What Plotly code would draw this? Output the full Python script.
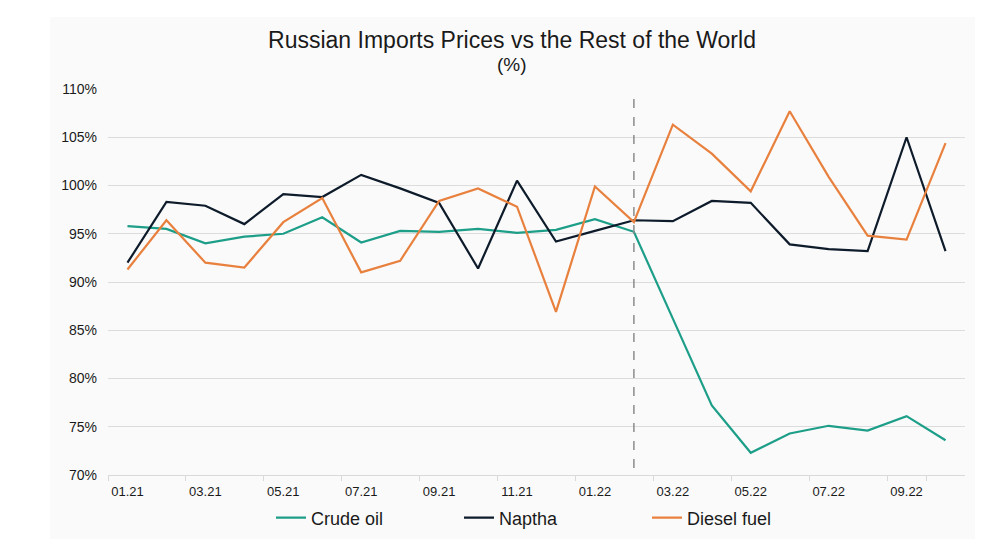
import plotly.graph_objects as go

# ---------------- data ----------------
months = ["01.21", "02.21", "03.21", "04.21", "05.21", "06.21", "07.21", "08.21",
          "09.21", "10.21", "11.21", "12.21", "01.22", "02.22", "03.22", "04.22",
          "05.22", "06.22", "07.22", "08.22", "09.22", "10.22"]
tick_labels = ["01.21", "03.21", "05.21", "07.21", "09.21", "11.21",
               "01.22", "03.22", "05.22", "07.22", "09.22"]
y_ticks = [70, 75, 80, 85, 90, 95, 100, 105, 110]
y_tick_labels = ["70%", "75%", "80%", "85%", "90%", "95%", "100%", "105%", "110%"]

crude_oil = [95.8, 95.5, 94.0, 94.7, 95.0, 96.7, 94.1, 95.3, 95.2, 95.5, 95.1, 95.4,
             96.5, 95.2, 86.2, 77.2, 72.3, 74.3, 75.1, 74.6, 76.1, 73.6]
naptha = [92.0, 98.3, 97.9, 96.0, 99.1, 98.8, 101.1, 99.7, 98.2, 91.4, 100.5, 94.2,
          95.3, 96.4, 96.3, 98.4, 98.2, 93.9, 93.4, 93.2, 105.0, 93.2]
diesel = [91.3, 96.4, 92.0, 91.5, 96.2, 98.7, 91.0, 92.2, 98.4, 99.7, 97.8, 86.9,
          99.9, 96.2, 106.3, 103.3, 99.4, 107.7, 100.9, 94.8, 94.4, 104.4]

series_names = ["Crude oil", "Naptha", "Diesel fuel"]
event_month = "02.22"

# ---------------- styles ----------------
colors = {"Crude oil": "#1d9e88", "Naptha": "#0e1b2b", "Diesel fuel": "#e8803e"}
FONT = "Liberation Sans, Arial, sans-serif"

fig = go.Figure()
for name, vals in zip(series_names, [crude_oil, naptha, diesel]):
    fig.add_trace(go.Scatter(
        x=months, y=vals, name=name, mode="lines",
        line=dict(color=colors[name], width=2.2),
    ))

# page body has an 8px margin -> compensate
OFF = 8
W, H = 1000 - OFF, 557 - OFF
ml, mr, mt, mb = 108 - OFF, 35, 89 - OFF, 82
pw, ph = W - ml - mr, H - mt - mb

def px_x(p):
    return (p - OFF - ml) / pw

def px_y(p):
    return (H - mb - (p - OFF)) / ph

# light grey panel behind chart
fig.add_shape(type="rect", xref="paper", yref="paper", layer="below",
              x0=px_x(50), x1=px_x(975), y0=px_y(539), y1=px_y(17),
              fillcolor="#fafafa", line=dict(width=0))

# dashed event line
fig.add_shape(type="line", xref="x", yref="paper",
              x0=months.index(event_month), x1=months.index(event_month),
              y0=px_y(468), y1=px_y(92),
              line=dict(color="#8c8c8c", width=1.5, dash="dash"))

fig.add_annotation(text="(%)", xref="paper", yref="paper",
                   x=px_x(512), y=px_y(64), showarrow=False,
                   font=dict(family=FONT, size=19, color="#1a1a1a"),
                   xanchor="center", yanchor="middle")

fig.update_layout(
    width=W, height=H,
    margin=dict(l=ml, r=mr, t=mt, b=mb),
    paper_bgcolor="white",
    plot_bgcolor="rgba(0,0,0,0)",
    font=dict(family=FONT, color="#1a1a1a"),
    title=dict(text="Russian Imports Prices vs the Rest of the World",
               x=px_x(512), xref="paper", xanchor="center",
               y=1 - (40 - OFF) / H, yanchor="middle",
               font=dict(family=FONT, size=23, color="#1a1a1a")),
    showlegend=True,
    legend=dict(orientation="h", x=px_x(271), xanchor="left",
                y=px_y(518), yanchor="middle",
                font=dict(family=FONT, size=18, color="#1a1a1a"),
                entrywidth=143, entrywidthmode="pixels",
                bgcolor="rgba(0,0,0,0)", itemwidth=30),
    xaxis=dict(
        type="category", categoryorder="array", categoryarray=months,
        tickmode="array", tickvals=tick_labels, ticktext=tick_labels,
        tickson="boundaries", ticks="outside", ticklen=5, tickcolor="#d9d9d9",
        showline=True, linecolor="#d9d9d9", linewidth=1,
        showgrid=False, zeroline=False, tickangle=0,
        tickfont=dict(family=FONT, size=13, color="#1a1a1a"),
        ticklabelstandoff=4,
        range=[-0.5, len(months) - 0.5],
    ),
    yaxis=dict(
        range=[70, 110], tickmode="array", tickvals=y_ticks, ticktext=y_tick_labels,
        showgrid=True, gridcolor="#dcdcdc", gridwidth=1,
        zeroline=False, showline=False, ticks="",
        tickfont=dict(family=FONT, size=14, color="#1a1a1a"),
        ticklabelstandoff=10,
    ),
)

fig.write_html("out.html")
